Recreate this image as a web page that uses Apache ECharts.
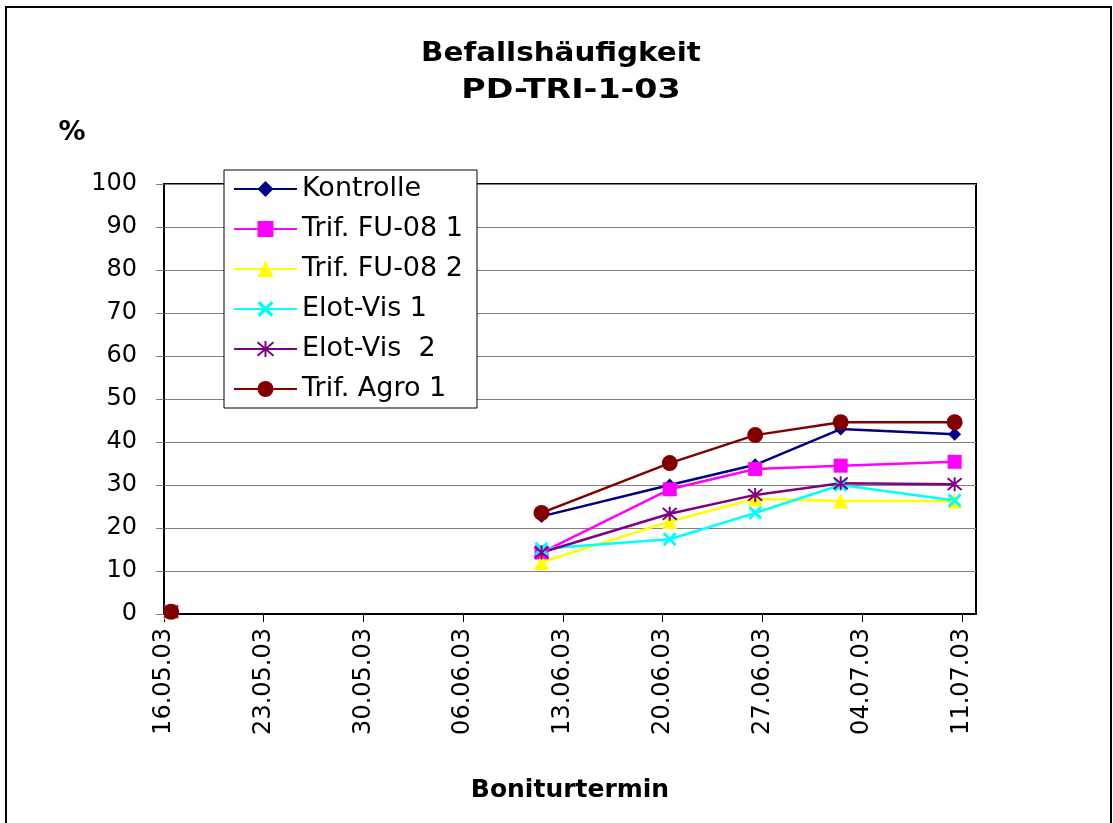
<!DOCTYPE html>
<html>
<head>
<meta charset="utf-8">
<title>Befallshäufigkeit PD-TRI-1-03</title>
<script src="https://cdn.jsdelivr.net/npm/echarts@6/dist/echarts.min.js"></script>
<style>
    html, body { margin: 0; padding: 0; background: #fff; }
    #chart { width: 1113px; height: 823px; }
</style>
</head>
<body>
<div id="chart"></div>
<script>
    // Achsenbeschriftung (Datumsachse, Hauptintervall 7 Tage)
    const tickLabels = ['16.05.03', '23.05.03', '30.05.03', '06.06.03', '13.06.03', '20.06.03', '27.06.03', '04.07.03', '11.07.03']
    // Boniturtermine
    const dates = ['16.05.03', '11.06.03', '20.06.03', '26.06.03', '02.07.03', '10.07.03']

    const seriesNames = ['Kontrolle', 'Trif. FU-08 1', 'Trif. FU-08 2', 'Elot-Vis 1', 'Elot-Vis  2', 'Trif. Agro 1']
    const kontrolle = [0.5, 22.7, 30.0, 34.7, 43.0, 41.8]
    const trifFu1   = [0.5, 14.3, 29.0, 33.7, 34.5, 35.4]
    const trifFu2   = [0.5, 12.0, 21.5, 26.8, 26.3, 26.3]
    const elotVis1  = [0.5, 15.2, 17.4, 23.5, 30.0, 26.4]
    const elotVis2  = [0.5, 14.3, 23.3, 27.7, 30.4, 30.2]
    const trifAgro1 = [0.5, 23.5, 35.1, 41.6, 44.6, 44.6]

    const colors = ['#000080', '#FF00FF', '#FFFF00', '#00FFFF', '#800080', '#800000']

    // Tage seit dem ersten Termin
    const dayOf = s => {
        const [d, m, y] = s.split('.').map(Number)
        return (Date.UTC(2000 + y, m - 1, d) - Date.UTC(2003, 4, 16)) / 86400000
    }
    const days = dates.map(dayOf)

    // Punkte liegen in der Mitte des Tages; fehlende Termine (> 2 Wochen) -> Linie unterbrechen
    const toData = vals => {
        let out = []
        vals.forEach((v, i) => {
            if (i > 0 && days[i] - days[i - 1] > 14) out.push([(days[i] + days[i - 1]) / 2, '-'])
            out.push([days[i] + 0.5, v])
        })
        return out
    }

    const crossPath = 'path://M0,1.5L1.5,0L5,3.5L8.5,0L10,1.5L6.5,5L10,8.5L8.5,10L5,6.5L1.5,10L0,8.5L3.5,5Z'
    const starPath = 'path://M0,0L10,10M10,0L0,10M5,-1L5,11'

    const symbols = [
        { symbol: 'diamond', symbolSize: 13 },
        { symbol: 'rect', symbolSize: 14 },
        { symbol: 'triangle', symbolSize: 15 },
        { symbol: crossPath, symbolSize: 14 },
        { symbol: starPath, symbolSize: 14, itemStyle: { borderColor: colors[4], borderWidth: 2 } },
        { symbol: 'circle', symbolSize: 16 }
    ]

    const values = [kontrolle, trifFu1, trifFu2, elotVis1, elotVis2, trifAgro1]
    const tickValues = tickLabels.map((t, i) => i * 7)

    const chart = echarts.init(document.getElementById('chart'))
    chart.setOption({
        animation: false,
        backgroundColor: '#fff',
        color: colors,
        textStyle: { fontFamily: 'DejaVu Sans' },
        grid: {
            left: 164, top: 184, right: 137, bottom: 209,
            show: true, borderColor: '#000', borderWidth: 2
        },
        legend: {
            orient: 'vertical',
            left: 224, top: 170,
            padding: [5, 14, 5, 9],
            itemGap: 12,
            itemWidth: 63,
            itemHeight: 20,
            backgroundColor: '#fff',
            borderColor: '#000',
            borderWidth: 1,
            textStyle: { fontSize: 27, color: '#000', lineHeight: 28 },
            data: seriesNames
        },
        xAxis: {
            type: 'value',
            min: 0, max: 57, interval: 7,
            name: 'Boniturtermin',
            nameLocation: 'middle',
            nameGap: 164,
            nameTextStyle: { fontFamily: 'DejaVu Sans', fontWeight: 'bold', fontSize: 25, color: '#000' },
            axisLine: { lineStyle: { color: '#000', width: 2 } },
            axisTick: { length: 8, lineStyle: { color: '#000' }, customValues: tickValues },
            axisLabel: {
                rotate: 90, fontSize: 24, color: '#000', margin: 14,
                customValues: tickValues,
                formatter: v => (v % 7 === 0 && tickLabels[v / 7]) || ''
            },
            splitLine: { show: false }
        },
        yAxis: {
            type: 'value',
            min: 0, max: 100, interval: 10,
            axisLine: { show: true, lineStyle: { color: '#000', width: 2 } },
            axisTick: { show: true, length: 8, lineStyle: { color: '#808080' } },
            axisLabel: { fontSize: 24, color: '#000', margin: 27 },
            splitLine: { lineStyle: { color: '#808080', width: 1 } }
        },
        series: values.map((vals, i) => Object.assign({
            name: seriesNames[i],
            type: 'line',
            data: toData(vals),
            connectNulls: false,
            showAllSymbol: true,
            lineStyle: { width: 2.5, color: colors[i] },
            itemStyle: { color: colors[i] }
        }, symbols[i])),
        graphic: [
            {
                type: 'rect', silent: true,
                shape: { x: 6, y: 7, width: 1105, height: 830 },
                style: { fill: 'none', stroke: '#000', lineWidth: 2 }
            },
            {
                type: 'text', x: 561, y: 54, scaleX: 1.13,
                style: { text: 'Befallshäufigkeit', fontFamily: 'DejaVu Sans', fontWeight: 'bold', fontSize: 26, fill: '#000', align: 'center', verticalAlign: 'middle' }
            },
            {
                type: 'text', x: 571, y: 91, scaleX: 1.28,
                style: { text: 'PD-TRI-1-03', fontFamily: 'DejaVu Sans', fontWeight: 'bold', fontSize: 26, fill: '#000', align: 'center', verticalAlign: 'middle' }
            },
            {
                type: 'text', x: 72, y: 133,
                style: { text: '%', fontFamily: 'DejaVu Sans', fontWeight: 'bold', fontSize: 27, fill: '#000', align: 'center', verticalAlign: 'middle' }
            }
        ]
    })
</script>
</body>
</html>
